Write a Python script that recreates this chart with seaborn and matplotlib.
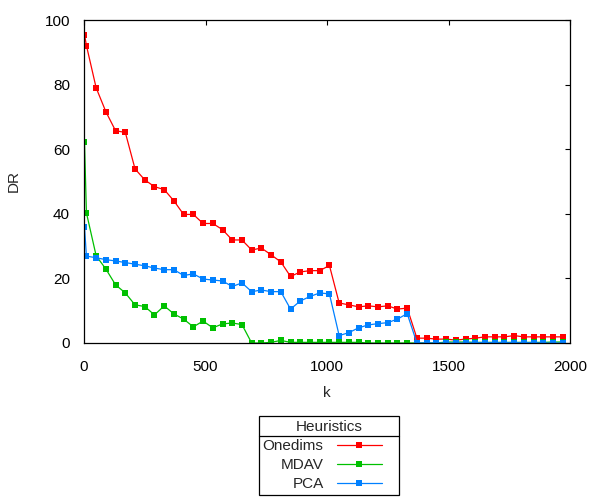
import numpy as np
import pandas as pd
import seaborn as sns
import matplotlib.pyplot as plt
from matplotlib.lines import Line2D
from matplotlib.legend_handler import HandlerLine2D

# valores
k = [2] + list(range(10, 1971, 40))

onedims = [95.5, 92.1, 79.0, 71.6, 65.7, 65.2, 53.9, 50.5, 48.4, 47.5,
           44.0, 39.8, 39.8, 37.0, 37.0, 35.1, 31.9, 31.9, 28.8, 29.4,
           27.3, 25.1, 20.6, 22.0, 22.4, 22.4, 24.0, 12.4, 11.8, 11.2,
           11.5, 11.2, 11.5, 10.5, 10.8, 1.5, 1.5, 1.2, 1.2, 0.9,
           1.2, 1.5, 1.9, 1.9, 1.9, 2.3, 1.9, 1.9, 1.9, 1.9, 1.9]

mdav = [62.3, 40.3, 27.0, 22.9, 18.0, 15.5, 11.8, 11.3, 8.7, 11.5,
        9.0, 7.4, 5.0, 6.8, 4.7, 5.9, 6.2, 5.7, 0.0, 0.0,
        0.2, 0.8, 0.2, 0.2, 0.2, 0.2, 0.2, 0.2, 0.2, 0.2,
        0.0, 0.0, 0.0, 0.0, 0.0, 0.0, 0.0, 0.0, 0.3, 0.3,
        0.3, 0.2, 0.2, 0.2, 0.2, 0.2, 0.2, 0.2, 0.2, 0.3, 0.3]

pca = [36.0, 26.9, 26.4, 25.8, 25.4, 24.9, 24.4, 23.9, 23.2, 22.7,
       22.7, 20.9, 21.4, 19.8, 19.5, 19.2, 17.5, 18.6, 15.9, 16.4,
       15.9, 15.9, 10.5, 13.0, 14.4, 15.5, 15.2, 2.3, 3.2, 4.7,
       5.6, 6.0, 6.3, 7.4, 9.1, 0.0, 0.0, 0.0, 0.0, 0.0,
       0.0, 0.1, 0.1, 0.1, 0.1, 0.1, 0.1, 0.1, 0.0, 0.0, 0.0]

nombres = ['Onedims', 'MDAV', 'PCA']
colores = ['#ff0000', '#00c000', '#0080ff']

df = pd.DataFrame({
    'k': k * 3,
    'DR': onedims + mdav + pca,
    'Heuristics': [n for n in nombres for _ in k],
})

sns.set_style('white')
plt.rcParams['font.family'] = ['Liberation Sans', 'DejaVu Sans']
plt.rcParams['font.size'] = 11

fig = plt.figure(figsize=(6, 5), dpi=100)
ax = fig.add_axes([84 / 600, 157 / 500, 486 / 600, 323 / 500])

sns.lineplot(data=df, x='k', y='DR', hue='Heuristics', style='Heuristics',
             hue_order=nombres, style_order=nombres, palette=colores,
             markers=['s', 's', 's'], dashes=False, markersize=4.5,
             markeredgewidth=0, linewidth=0.9, legend=False, ax=ax)

ax.set_xlim(0, 2000)
ax.set_ylim(0, 100)
ax.set_xticks([0, 500, 1000, 1500, 2000])
ax.set_yticks([0, 20, 40, 60, 80, 100])
ax.tick_params(direction='in', length=3.6, width=0.8, top=True, right=True,
               labelsize=11, colors='black')
ax.tick_params(axis='x', pad=12)
ax.tick_params(axis='y', pad=10)
for s in ax.spines.values():
    s.set_color('black')
    s.set_linewidth(0.9)

ax.set_xlabel('k', fontsize=11, labelpad=9)
ax.set_ylabel('DR', fontsize=11, labelpad=17)


# muestra de linea mas corta que su hueco, como en gnuplot
class HandlerCorto(HandlerLine2D):
    def create_artists(self, legend, orig_handle, xdescent, ydescent,
                       width, height, fontsize, trans):
        return super().create_artists(legend, orig_handle, xdescent,
                                      ydescent, width * 0.78, height,
                                      fontsize, trans)


handles = [Line2D([], [], color=c, marker='s', markersize=4.5,
                  markeredgewidth=0, linewidth=0.9) for c in colores]
leg = fig.legend(handles, nombres, title='Heuristics', loc='upper center',
                 bbox_to_anchor=(329 / 600, 1 - 416 / 500), markerfirst=False,
                 fancybox=False, shadow=False, framealpha=1, edgecolor='black',
                 handlelength=3.85, handletextpad=0.85, labelspacing=0.33,
                 borderpad=0.25, borderaxespad=0, fontsize=11,
                 title_fontsize=11,
                 handler_map={Line2D: HandlerCorto()})
leg.get_frame().set_linewidth(0.9)

fig.canvas.draw()
fr = leg.get_frame().get_window_extent()
tb = leg._legend_title_box.get_window_extent()
hb = leg._legend_handle_box.get_window_extent()
inv = fig.transFigure.inverted()
yline = (tb.y0 + hb.y1) / 2
x0, y0 = inv.transform((fr.x0, yline))
x1, _ = inv.transform((fr.x1, yline))
fig.add_artist(Line2D([x0, x1], [y0, y0], color='black', linewidth=0.9,
                      transform=fig.transFigure, zorder=10))

fig.savefig('out.png', dpi=100)
